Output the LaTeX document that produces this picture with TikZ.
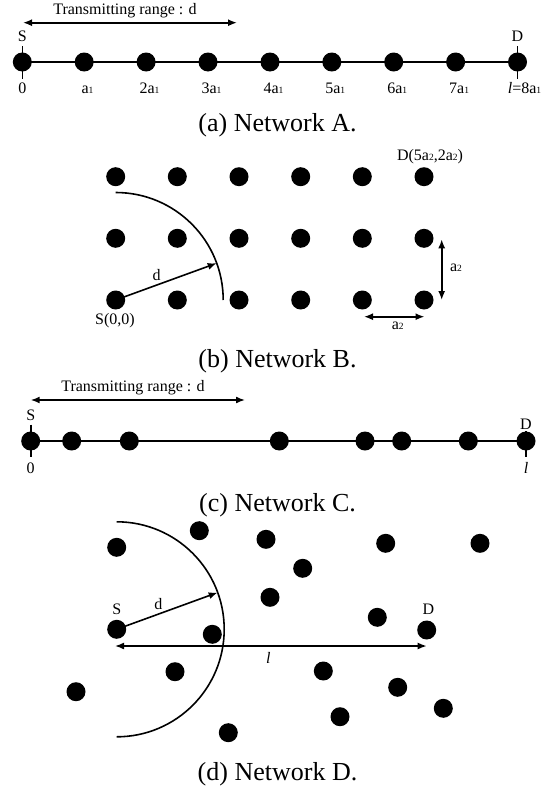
\documentclass[tikz,border=0pt]{standalone}
\usepackage{fontspec}
\setmainfont{Liberation Serif}
\usetikzlibrary{arrows.meta}
\newcommand\lblfont{\fontsize{16}{19}\selectfont}
\newcommand\captfont{\fontsize{26}{31}\selectfont}
\newcommand\subn[1]{{\fontsize{9.5}{9.5}\selectfont #1}}
\begin{document}
\begin{tikzpicture}[x=1pt,y=-1pt,
  dot/.style={circle,fill=black,inner sep=0pt,minimum size=19pt},
  wire/.style={line width=1.6pt},
  tick/.style={line width=1.6pt},
  span/.style={line width=1.6pt,{Latex[length=9pt,width=7pt]}-{Latex[length=9pt,width=7pt]}},
  ray/.style={line width=1.6pt,-{Latex[length=9pt,width=7pt]}},
  txt/.style={font=\lblfont,anchor=base,inner sep=0pt},
  capt/.style={font=\captfont,anchor=base,inner sep=0pt}]
\useasboundingbox (0,0) rectangle (555,787);

% ---------- Network A: evenly spaced chain ----------
\foreach \i/\x in {0/22.3,1/84.2,2/146.1,3/208,4/270,5/331.8,6/393.7,7/455.6,8/517.5}
  \coordinate (pa\i) at (\x,62);
\draw[wire] (pa0) -- (pa8);
\foreach \i in {0,...,8} \node[dot] (a\i) at (pa\i) {};
\draw[tick] ([yshift=16pt]a0.center) -- ([yshift=-17pt]a0.center);
\draw[tick] ([yshift=16pt]a8.center) -- ([yshift=-17pt]a8.center);
\coordinate (ra1) at (23,22.7);
\coordinate (ra2) at (237,22.7);
\draw[span] (ra1) -- (ra2);
\node[txt] (ta) at (125,14) {Transmitting range : d};
\node[txt] (sa) at (22.3,41.7) {S};
\node[txt] (da) at (517.5,41.7) {D};
\node[txt] (la0) at (22.3,93) {0};
\node[txt] (la1) at (87.5,93) {a\subn{1}};
\node[txt] (la2) at (149.5,93) {2a\subn{1}};
\node[txt] (la3) at (211.5,93) {3a\subn{1}};
\node[txt] (la4) at (273.5,93) {4a\subn{1}};
\node[txt] (la5) at (335.3,93) {5a\subn{1}};
\node[txt] (la6) at (397.2,93) {6a\subn{1}};
\node[txt] (la7) at (459.1,93) {7a\subn{1}};
\node[txt] (la8) at (524.5,93) {\textit{l}=8a\subn{1}};
\node[capt] (capa) at (277.5,131) {(a) Network A.};

% ---------- Network B: grid ----------
\foreach \c/\x in {0/115.7,1/177.3,2/239,3/300.7,4/362.3,5/424}
  \foreach \r/\y in {0/300,1/238.3,2/176.7}
    \node[dot] (b\c\r) at (\x,\y) {};
\draw[line width=1.6pt] (b00.center) ++(0,-107.5) arc[start angle=90,end angle=0,radius=107.5pt];
\coordinate (bd) at (216.7,263.2);
\draw[ray] (b00.center) -- (bd);
\node[txt] (tbd) at (156.7,280) {d};
\node[txt] (tbs) at (115,324.5) {S(0,0)};
\node[txt] (tbd2) at (430,160) {D(5a\subn{2},2a\subn{2})};
\coordinate (bv1) at (441.7,239.3);
\coordinate (bv2) at (441.7,300);
\draw[span] (bv1) -- (bv2);
\node[txt] (tbv) at (456,271.7) {a\subn{2}};
\coordinate (bh1) at (364,316.7);
\coordinate (bh2) at (424.5,316.7);
\draw[span] (bh1) -- (bh2);
\node[txt] (tbh) at (397.8,329.5) {a\subn{2}};
\node[capt] (capb) at (277.5,367.5) {(b) Network B.};

% ---------- Network C: irregular chain ----------
\foreach \i/\x in {0/30.7,1/71.7,2/129.3,3/279.3,4/365,5/401.7,6/468.3,7/526}
  \coordinate (pc\i) at (\x,441);
\draw[wire] (pc0) -- (pc7);
\foreach \i in {0,...,7} \node[dot] (c\i) at (pc\i) {};
\draw[tick] ([yshift=16.5pt]c0.center) -- ([yshift=-16pt]c0.center);
\draw[tick] ([yshift=10pt]c7.center) -- ([yshift=-16pt]c7.center);
\coordinate (rc1) at (30.7,400);
\coordinate (rc2) at (245,400);
\draw[span] (rc1) -- (rc2);
\node[txt] (tc) at (133,391) {Transmitting range : d};
\node[txt] (sc) at (30.7,420) {S};
\node[txt] (dc) at (526,429) {D};
\node[txt] (lc0) at (30.7,473.3) {0};
\node[txt] (lc7) at (526,473) {\textit{l}};
\node[capt] (capc) at (277.5,511) {(c) Network C.};

% ---------- Network D: random placement ----------
\node[dot] (ds) at (116.7,629.3) {};
\node[dot] (dd) at (426.7,630) {};
\foreach \i/\x/\y in {1/116.7/547.3, 2/199.3/530.7, 3/266/539.3, 4/270/597.3,
    5/212.3/634.3, 6/175/671.7, 7/76/691.7, 8/228.3/732.7, 9/302.7/568.3,
    10/385.7/543.3, 11/480/543.3, 12/377.3/617.3, 13/323.3/671,
    14/397.7/687.3, 15/340/716.7, 16/443.3/708.3}
  \node[dot] (d\i) at (\x,\y) {};
\draw[line width=1.6pt] (ds.center) ++(0,-107.5) arc[start angle=90,end angle=-90,radius=107.5pt];
\coordinate (dr) at (217.7,592.5);
\draw[ray] (ds.center) -- (dr);
\coordinate (dl1) at (115,646);
\coordinate (dl2) at (426.7,646);
\draw[span] (dl1) -- (dl2);
\node[txt] (tds) at (116.7,614) {S};
\node[txt] (tdd) at (428.3,614) {D};
\node[txt] (tdr) at (158.3,609) {d};
\node[txt] (tdl) at (268.3,663) {\textit{l}};
\node[capt] (capd) at (277.5,780) {(d) Network D.};
\end{tikzpicture}
\end{document}
